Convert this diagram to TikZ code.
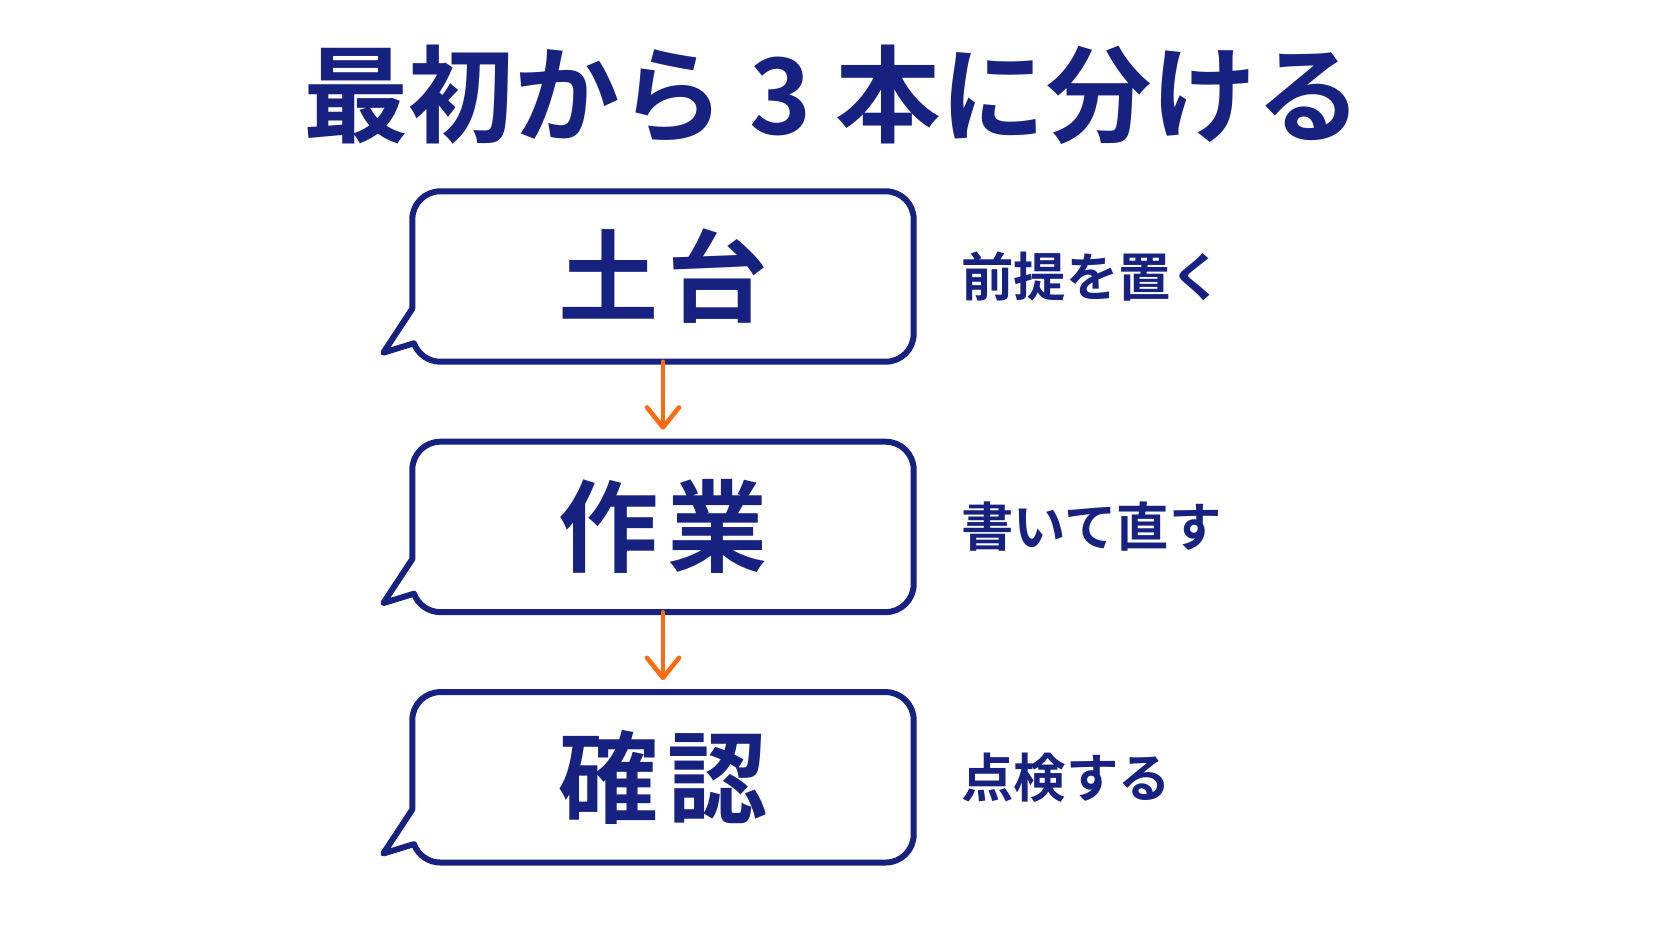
\documentclass[tikz,border=0pt]{standalone}
\usepackage{fontspec}
\setmainfont{Noto Sans CJK JP}[BoldFont={Noto Sans CJK JP Bold}]
\newfontfamily\stepfont{Noto Sans CJK JP Bold}[LetterSpace=9]
\usetikzlibrary{positioning,calc,arrows.meta}
\definecolor{navy}{RGB}{22,33,128}
\definecolor{flow}{RGB}{255,106,20}
\tikzset{headline/.style={inner sep=0, text=navy, font=\fontsize{30}{30}\selectfont\bfseries}}
\tikzset{stepbox/.style={minimum width=5cm, minimum height=1.69cm, inner sep=0, text=navy, font=\fontsize{28.5}{30}\stepfont}}
\tikzset{bubble/.style={draw=navy, line width=1.7pt, line join=round}}
\tikzset{note/.style={inner sep=0, text=navy, font=\fontsize{14.9}{15}\selectfont\bfseries}}
\tikzset{arr/.style={draw=flow, line width=1.3pt, line cap=round, -{Straight Barb[length=2mm, width=3.2mm, round]}, shorten >=1.2mm}}
% speech bubble round a step node
\newcommand{\bubbleframe}[1]{%
  \draw[bubble] ($(#1.south west)+(0,0.53)$) -- ($(#1.south west)+(-0.29,0.09)$)
    -- ($(#1.south west)+(0.28,0.28)+(200:0.28)$) arc[start angle=200, end angle=270, radius=0.28]
    -- ($(#1.south east)+(-0.28,0)$) arc[start angle=270, end angle=360, radius=0.28]
    -- ($(#1.north east)+(0,-0.28)$) arc[start angle=0, end angle=90, radius=0.28]
    -- ($(#1.north west)+(0.28,0)$) arc[start angle=90, end angle=180, radius=0.28]
    -- cycle;}
\begin{document}
\begin{tikzpicture}
	\useasboundingbox (0,0) rectangle (16.72,-9.41);
	\node[headline] (title) at (8.33,-0.945) {最初から 3 本に分ける};
	\node[stepbox] (base) at (6.63,-2.765) {土台};
	\node[stepbox, below=0.8 of base] (work) {作業};
	\node[stepbox, below=0.8 of work] (check) {確認};
	\bubbleframe{base}
	\bubbleframe{work}
	\bubbleframe{check}
	\node[note, right=0.47 of base] (baseNote) {前提を置く};
	\node[note, right=0.47 of work] (workNote) {書いて直す};
	\node[note, right=0.47 of check] (checkNote) {点検する};
	\draw[arr] (base.south) -- (work.north);
	\draw[arr] (work.south) -- (check.north);
\end{tikzpicture}
\end{document}
